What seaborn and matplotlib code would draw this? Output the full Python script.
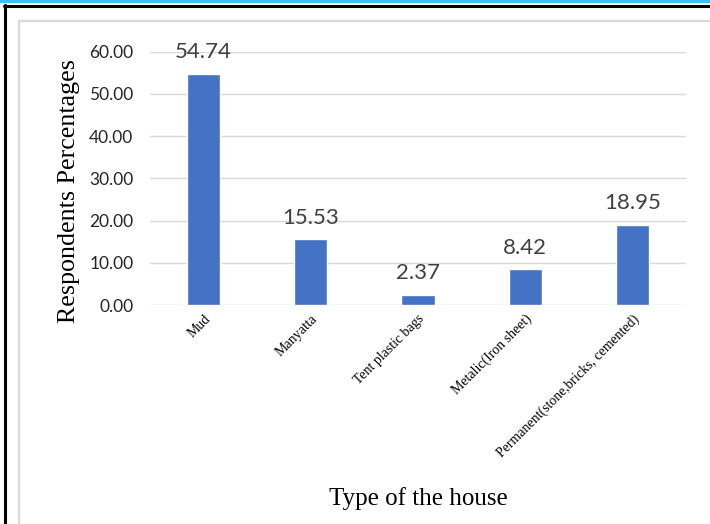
import matplotlib
matplotlib.use("Agg")
import matplotlib.pyplot as plt
import seaborn as sns
import pandas as pd
from matplotlib.lines import Line2D
from matplotlib.patches import Rectangle

# data
house_types = ["Mud", "Manyatta", "Tent plastic bags", "Metalic(Iron sheet)",
               "Permanent(stone,bricks, cemented)"]
percentages = [54.74, 15.53, 2.37, 8.42, 18.95]
y_ticks = [0, 10, 20, 30, 40, 50, 60]

df = pd.DataFrame({"house": house_types, "pct": percentages})

sns.set_theme(style="white")
plt.rcParams["font.family"] = ["Lato", "DejaVu Sans"]

fig = plt.figure(figsize=(7.1, 5.24), dpi=100)
ax = fig.add_axes([150 / 710, 1 - 305 / 524, 536 / 710, (305 - 51.7) / 524])

sns.barplot(data=df, x="house", y="pct", color="#4472C4", width=0.31,
            saturation=1, ax=ax, zorder=3)

ax.set_ylim(0, 60)
ax.set_xlim(-0.5, len(house_types) - 0.5)
ax.set_yticks(y_ticks)
ax.set_yticklabels([f"{t:.2f}" for t in y_ticks], fontsize=12.5, color="#262626")
ax.tick_params(axis="y", length=0, pad=12)
ax.tick_params(axis="x", length=0, pad=5)
ax.yaxis.grid(True, color="#d9d9d9", linewidth=1, zorder=0)
ax.xaxis.grid(False)
for s in ax.spines.values():
    s.set_visible(False)

ax.set_xticks(range(len(house_types)))
ax.set_xticklabels(house_types, rotation=45, ha="right", va="top",
                   rotation_mode="anchor", fontsize=10,
                   family="Liberation Serif", color="black")

for i, v in enumerate(percentages):
    ax.annotate(f"{v:.2f}", (i, v), xytext=(0, 8.5), textcoords="offset points",
                ha="center", va="bottom", fontsize=16, color="#404040")

ax.set_ylabel("Respondents Percentages", family="Liberation Serif",
              fontsize=18.7, color="black")
ax.yaxis.set_label_coords(-0.13, 0.45)
ax.set_xlabel("Type of the house", family="Liberation Serif",
              fontsize=18, color="black")
ax.xaxis.set_label_coords(0.5, -0.72)

# page frame around the chart
W, H = 710, 524
fig.add_artist(Rectangle((0, 1 - 2.5 / H), 1, 2.5 / H, transform=fig.transFigure,
                         color="#45b9f2", lw=0))
fig.add_artist(Line2D([4 / W, 1], [1 - 6 / H, 1 - 6 / H], color="black", lw=2.2))
fig.add_artist(Line2D([5 / W, 5 / W], [0, 1 - 5 / H], color="black", lw=2.2))
fig.add_artist(Line2D([19 / W, 1], [1 - 20.5 / H, 1 - 20.5 / H],
                      color="#d9d9d9", lw=1.6))
fig.add_artist(Line2D([19 / W, 19 / W], [0, 1 - 20.5 / H],
                      color="#d9d9d9", lw=1.6))

fig.savefig("out.png", dpi=100)
